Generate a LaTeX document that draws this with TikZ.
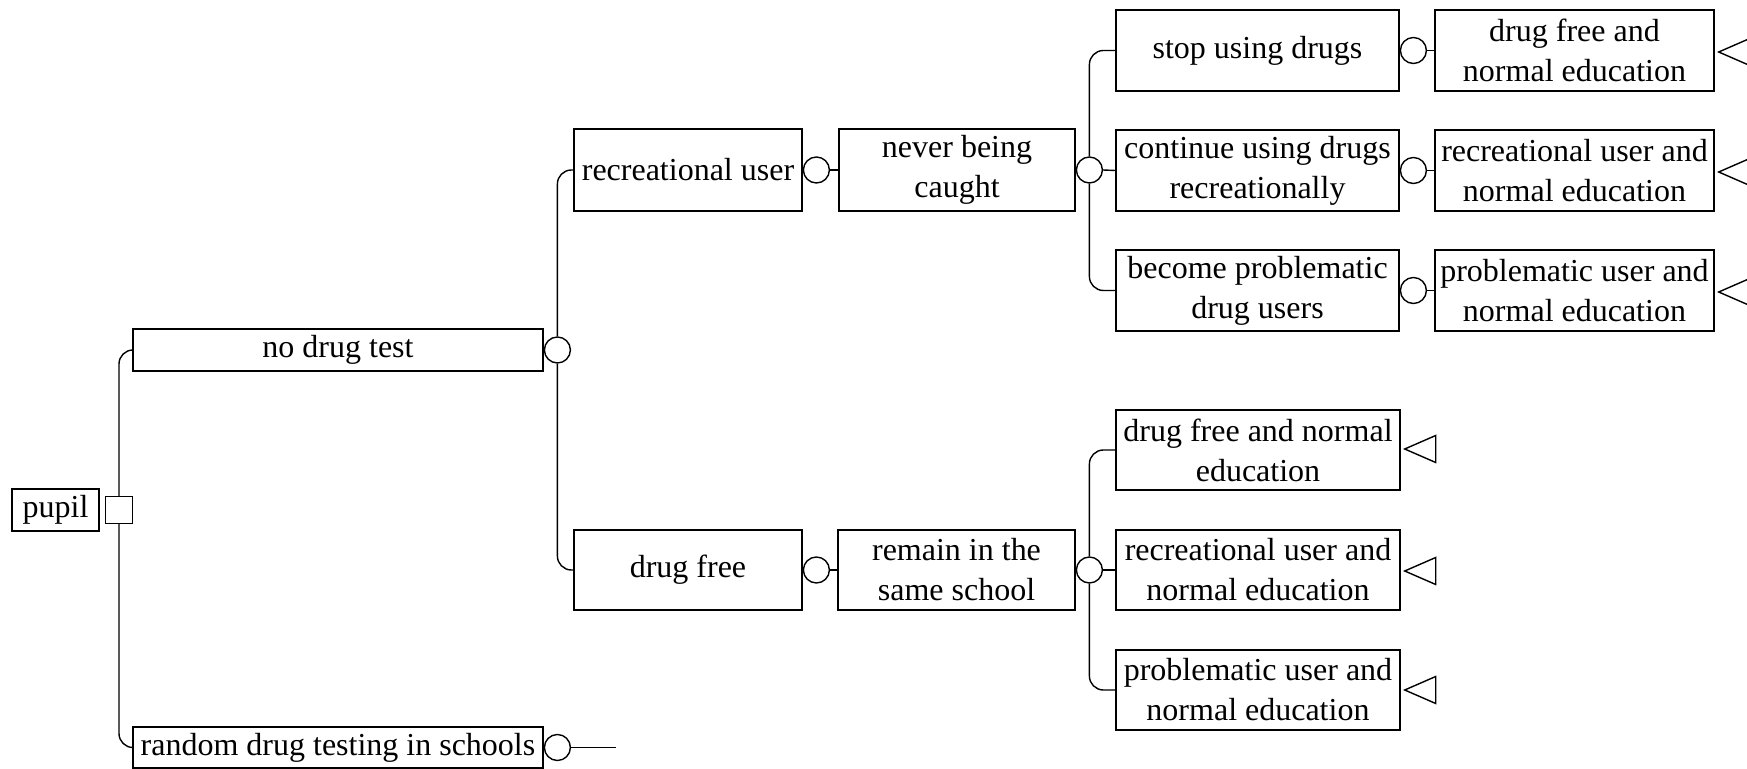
\documentclass[tikz,border=0pt]{standalone}
\usepackage{fontspec}
\setmainfont{Liberation Serif}
\usetikzlibrary{calc}
\begin{document}
\begin{tikzpicture}[x=0.5pt,y=-0.5pt, line width=0.7pt,
  bx/.style={draw, rectangle, inner sep=0pt, align=center, font=\fontsize{16pt}{20pt}\selectfont},
  chance/.style={draw, circle, fill=white, inner sep=0pt, minimum size=13pt},
  decision/.style={draw, rectangle, fill=white, inner sep=0pt, minimum size=13.5pt},
  conn/.style={rounded corners=7pt},
  term/.style={draw, line join=miter}]
\useasboundingbox (0,0) rectangle (1747,769);

% level 0
\node[bx, minimum width=43.5pt, minimum height=21pt] (pupil) at (55.5,510) {pupil};
\node[decision] (sq) at (119,510) {};

% level 1
\node[bx, minimum width=205pt, minimum height=21pt] (nodrug) at (338,350) {no drug test};
\node[bx, minimum width=205pt, minimum height=20.5pt] (random) at (338,747.5) {random drug testing in schools};
\node[chance, anchor=west] (c1) at (nodrug.east) {};
\node[chance, anchor=west] (cr) at (random.east) {};
\coordinate (rend) at (616,747.5);

% level 2
\node[bx, minimum width=114pt, minimum height=41pt] (recuser) at (688,170) {recreational user};
\node[bx, minimum width=114pt, minimum height=40pt] (drugfree) at (688,570) {drug free};
\node[chance, anchor=west] (c2) at (recuser.east) {};
\node[chance, anchor=west] (c7) at (drugfree.east) {};

% level 3
\node[bx, minimum width=118pt, minimum height=41pt] (never) at (957,170) {never being\\caught};
\node[bx, minimum width=118.5pt, minimum height=40pt] (remain) at (956.5,570) {remain in the\\same school};
\node[chance, anchor=west] (c3) at (never.east) {};
\node[chance, anchor=west] (c8) at (remain.east) {};

% level 4 (upper)
\node[bx, minimum width=141.5pt, minimum height=40.5pt] (stop) at (1257.5,50.5) {stop using drugs};
\node[bx, minimum width=141.5pt, minimum height=40.5pt] (cont) at (1257.5,170.5) {continue using drugs\\recreationally};
\node[bx, minimum width=141.5pt, minimum height=40.5pt] (become) at (1257.5,290.5) {become problematic\\drug users};
\node[chance, anchor=west] (c4) at (stop.east) {};
\node[chance, anchor=west] (c5) at (cont.east) {};
\node[chance, anchor=west] (c6) at (become.east) {};

% level 5 (upper outcomes)
\node[bx, minimum width=139.5pt, minimum height=40.5pt] (r1) at (1574.5,50.5) {drug free and\\normal education};
\node[bx, minimum width=139.5pt, minimum height=40.5pt] (r2) at (1574.5,170.5) {recreational user and\\normal education};
\node[bx, minimum width=139.5pt, minimum height=40.5pt] (r3) at (1574.5,290.5) {problematic user and\\normal education};

% level 4 (lower outcomes)
\node[bx, minimum width=142pt, minimum height=40pt] (l1) at (1258,450) {drug free and normal\\education};
\node[bx, minimum width=142pt, minimum height=40pt] (l2) at (1258,570) {recreational user and\\normal education};
\node[bx, minimum width=142pt, minimum height=40pt] (l3) at (1258,690) {problematic user and\\normal education};

% connectors
\draw[conn] (sq.north) |- (nodrug.west);
\draw[conn] (sq.south) |- (random.west);
\draw[conn] (c1.north) |- (recuser.west);
\draw[conn] (c1.south) |- (drugfree.west);
\draw (cr.east) -- (rend);
\draw (c2.east) -- (never.west);
\draw (c7.east) -- (remain.west);
\draw[conn] (c3.north) |- (stop.west);
\draw (c3.east) -- (cont.west);
\draw[conn] (c3.south) |- (become.west);
\draw (c4.east) -- (r1.west);
\draw (c5.east) -- (r2.west);
\draw (c6.east) -- (r3.west);
\draw[conn] (c8.north) |- (l1.west);
\draw (c8.east) -- (l2.west);
\draw[conn] (c8.south) |- (l3.west);

% terminal triangles
\coordinate (t1) at ($(r1.east)+(4,1.5)$);
\coordinate (t2) at ($(r2.east)+(4,1.5)$);
\coordinate (t3) at ($(r3.east)+(4,1.5)$);
\coordinate (t4) at ($(l1.east)+(4,-1)$);
\coordinate (t5) at ($(l2.east)+(4,1)$);
\coordinate (t6) at ($(l3.east)+(4,0)$);
\foreach \t in {t1,t2,t3,t4,t5,t6}{
  \draw[term] (\t) -- ++(31,-13.5) -- ++(0,27) -- cycle;
}
\end{tikzpicture}
\end{document}
